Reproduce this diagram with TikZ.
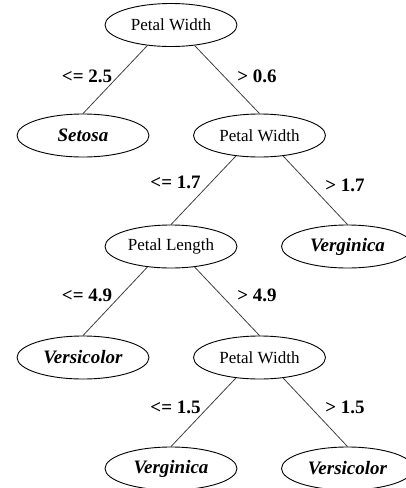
\documentclass[tikz,border=0pt]{standalone}
\usepackage{fontspec}
\setmainfont{Liberation Serif}
\usetikzlibrary{shapes.geometric}
\begin{document}
\begin{tikzpicture}[x=1pt,y=-1pt,
  tnode/.style={ellipse,draw=black,line width=0.9pt,minimum width=132pt,minimum height=43pt,inner sep=0pt,font=\fontsize{17}{17}\selectfont},
  leaf/.style={tnode,font=\fontsize{19}{19}\selectfont\bfseries\itshape},
  elabel/.style={font=\fontsize{19}{19}\selectfont\bfseries,inner sep=0pt},
  edge/.style={draw=black!75,line width=0.8pt}]
\useasboundingbox (0,0) rectangle (406,488);
\clip (0,0) rectangle (406,488);
\node[tnode] (root) at (171,25) {Petal Width};
\node[leaf] (setosa) at (83,135.5) {Setosa};
\node[tnode] (pw2) at (259.5,135.5) {Petal Width};
\node[tnode] (pl) at (171,246.5) {Petal Length};
\node[leaf] (virg1) at (347.5,246.5) {Verginica};
\node[leaf] (vers1) at (83,357.5) {Versicolor};
\node[tnode] (pw3) at (259.5,357.5) {Petal Width};
\node[leaf] (virg2) at (171,468.5) {Verginica};
\node[leaf] (vers2) at (347.5,468.5) {Versicolor};

\draw[edge] (root.221) -- (setosa.north);
\draw[edge] (root.319) -- (pw2.north);
\draw[edge] (pw2.221) -- (pl.north);
\draw[edge] (pw2.319) -- (virg1.north);
\draw[edge] (pl.221) -- (vers1.north);
\draw[edge] (pl.319) -- (pw3.north);
\draw[edge] (pw3.221) -- (virg2.north);
\draw[edge] (pw3.319) -- (vers2.north);

\node[elabel] (l1) at (87,76) {<= 2.5};
\node[elabel] (l2) at (257,76) {> 0.6};
\node[elabel] (l3) at (175.5,182) {<= 1.7};
\node[elabel] (l4) at (345,185) {> 1.7};
\node[elabel] (l5) at (87,295) {<= 4.9};
\node[elabel] (l6) at (257,295) {> 4.9};
\node[elabel] (l7) at (175.5,407) {<= 1.5};
\node[elabel] (l8) at (345,407) {> 1.5};
\end{tikzpicture}
\end{document}
